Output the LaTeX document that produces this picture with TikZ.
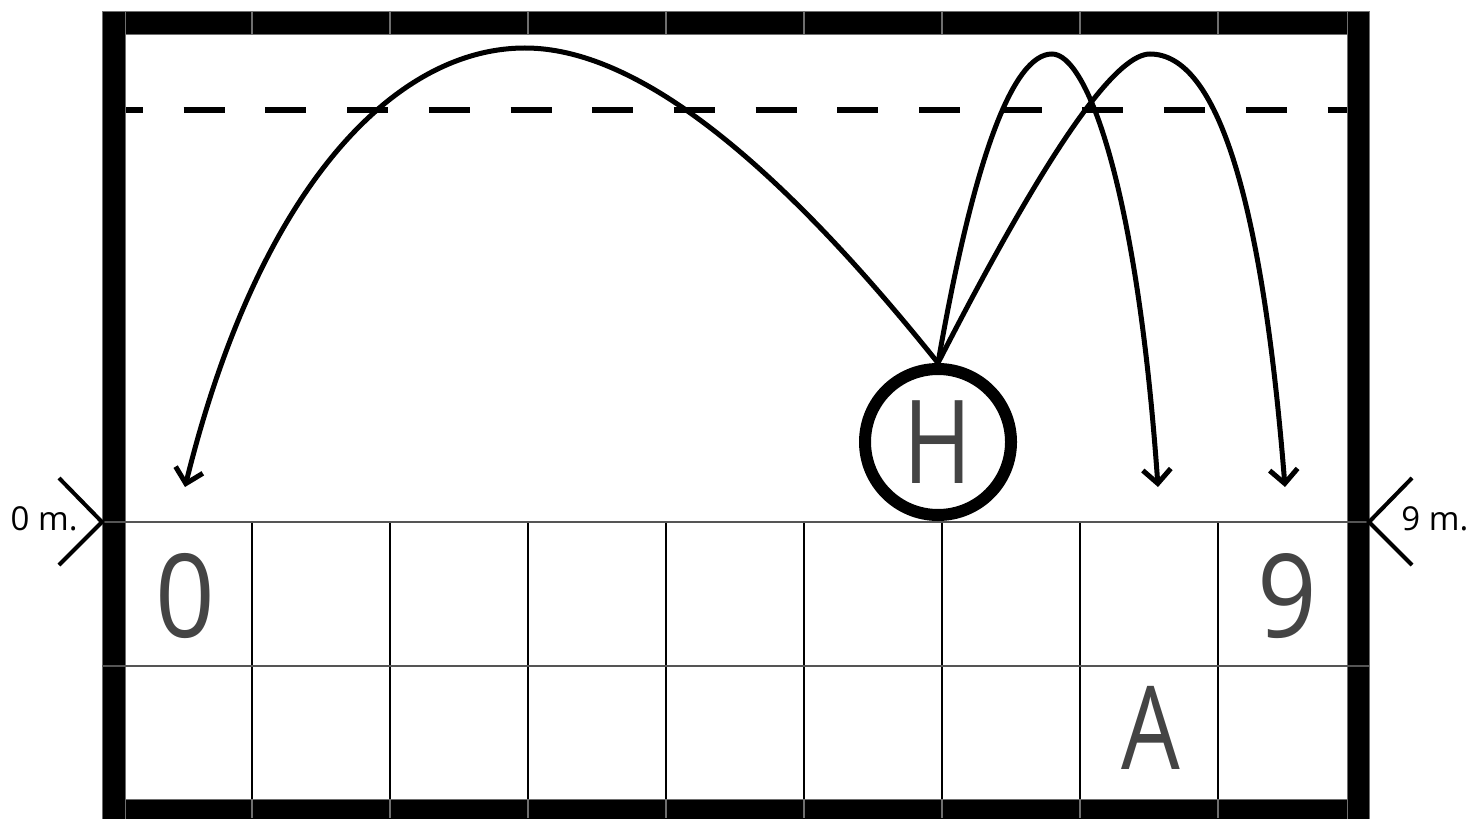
\documentclass[tikz,border=0pt]{standalone}
\usepackage{fontspec}
\setmainfont{Open Sans}
\usetikzlibrary{arrows.meta}
\definecolor{letter}{RGB}{68,68,68}
\definecolor{edgegray}{RGB}{110,110,110}
\definecolor{gridgray}{RGB}{85,85,85}
\begin{document}
\begin{tikzpicture}[x=0.5pt,y=-0.5pt,
  bar/.style={fill=black, draw=edgegray, line width=0.4pt},
  barline/.style={draw=edgegray, line width=0.6pt},
  gridv/.style={draw=black, line width=1pt},
  gridh/.style={draw=gridgray, line width=1pt},
  netline/.style={draw=black, line width=3pt, dash pattern=on 20.5pt off 20.35pt},
  chevron/.style={draw=black, line width=2pt},
  marklabel/.style={font=\fontsize{16.5}{20}\selectfont, text=black, inner sep=0pt},
  bigletter/.style={font=\fontsize{58}{60}\selectfont, text=letter, inner sep=0pt},
  player/.style={circle, draw=black, fill=white, line width=6pt, minimum size=73pt, inner sep=0pt},
  throw/.style={draw=black, line width=2.5pt, -{Straight Barb[length=7pt,width=14pt]}}]
\useasboundingbox (0,0) rectangle (1470,818);
% dashed line
\draw[netline] (102,110) -- (1369,110);
% frame bars
\draw[bar] (102,11) rectangle (1369,34);
\draw[bar] (102,799) rectangle (1369,822);
\draw[bar] (102,11) rectangle (125,822);
\draw[bar] (1347,11) rectangle (1369,822);
% grid
\foreach \x in {252,390,...,1218} {
  \draw[gridv] (\x,522) -- (\x,799);
  \draw[barline] (\x,11) -- (\x,34);
  \draw[barline] (\x,799) -- (\x,818);
}
\draw[gridh] (102,522) -- (1369,522);
\draw[gridh] (102,666) -- (1369,666);
% side markers
\draw[chevron] (59,478) -- (102,522) -- (59,565);
\draw[chevron] (1412,478) -- (1369,522) -- (1412,565);
\node[marklabel, anchor=base east] (m0) at (78,530) {0 m.};
\node[marklabel, anchor=base west] (m9) at (1401,530) {9 m.};
% cell letters
\node[bigletter, anchor=base] (d0) at (185,637) {\scalebox{0.9}[1]{0}};
\node[bigletter, anchor=base] (d9) at (1287,637) {\scalebox{0.9}[1]{9}};
\node[bigletter, anchor=base] (A) at (1151,769) {\scalebox{0.8}[1]{A}};
% player
\node[player, text=letter, font=\fontsize{58}{60}\selectfont] (H) at (938,442) {\scalebox{0.8}[1]{H}};
% targets
\coordinate (e1) at (185,487);
\coordinate (e2) at (1158,487);
\coordinate (e3) at (1285,487);
% throws
\draw[throw] (H.north) .. controls (770,153) and (633,48) .. (525,48)
   .. controls (395,48) and (259,187) .. (e1);
\draw[throw] (H.north) .. controls (974,157) and (1013,54) .. (1052,54)
   .. controls (1087,54) and (1137,187) .. (e2);
\draw[throw] (H.north) .. controls (1060,125) and (1120,54) .. (1150,54)
   .. controls (1217,54) and (1262,198) .. (e3);
\end{tikzpicture}
\end{document}
